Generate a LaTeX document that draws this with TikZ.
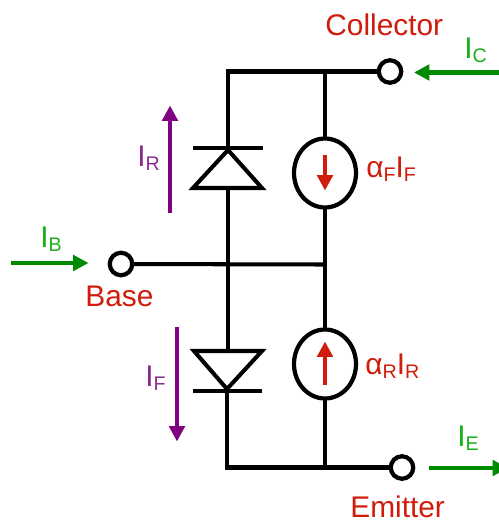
\documentclass[tikz,border=0pt]{standalone}
\usepackage{fontspec}
\setmainfont{Liberation Sans}
\usetikzlibrary{arrows.meta,shapes.geometric}
\definecolor{labelred}{HTML}{D01C0C}
\definecolor{arrowgreen}{HTML}{008A00}
\definecolor{labelgreen}{HTML}{18B018}
\definecolor{arrowpurple}{HTML}{800080}
\definecolor{labelpurple}{HTML}{8C2A8C}
\newcommand{\curlabel}[2]{#1\raisebox{-2.4pt}{\fontsize{11.2}{12}\selectfont #2}}
\tikzset{
	wire/.style={line width=2.3pt, color=black},
	terminal/.style={draw, circle, line width=2.4pt, minimum size=0.45cm, inner sep=0pt, outer sep=0pt},
	source/.style={draw, ellipse, line width=2.4pt, minimum width=1.24cm, minimum height=1.38cm, inner sep=0pt, outer sep=0pt},
	flowarrow/.style={line width=2.3pt, -{Triangle[length=8.8pt, width=8.8pt]}},
	txt/.style={anchor=base west, inner sep=0pt, font=\fontsize{17}{20}\selectfont}
}

\begin{document}
\begin{tikzpicture}[x=0.02cm, y=-0.02cm]
		%%%%% START %%%%%
		\useasboundingbox (0, 0) rectangle (499, 521);
		
		\node[terminal] (collector) at (390, 71.5) {};
		\node[terminal] (base) at (121, 264) {};
		\node[terminal] (emitter) at (402, 467.5) {};
		\node[source] (srcF) at (325, 173) {};
		\node[source] (srcR) at (325, 364) {};
		
		\coordinate (topleft) at (228, 71.5);
		\coordinate (topmid) at (325, 71.5);
		\coordinate (baseright) at (325, 264.5);
		\coordinate (botleft) at (227, 467.5);
		\coordinate (botmid) at (325, 467.5);
		
		% upper diode
		\coordinate (apexR) at (228, 150);
		\coordinate (baseRl) at (193, 188);
		\coordinate (baseRr) at (262, 188);
		\coordinate (midR) at (228, 188);
		\coordinate (barRl) at (193, 148);
		\coordinate (barRr) at (263, 148);
		\draw[wire, line join=miter] (apexR) -- (baseRr) -- (baseRl) -- cycle;
		\draw[wire] (barRl) -- (barRr);
		
		% lower diode
		\coordinate (apexF) at (227, 389);
		\coordinate (baseFl) at (194, 351);
		\coordinate (baseFr) at (262, 351);
		\coordinate (midF) at (228, 351);
		\coordinate (barFl) at (193, 391);
		\coordinate (barFr) at (262, 391);
		\draw[wire, line join=miter] (apexF) -- (baseFr) -- (baseFl) -- cycle;
		\draw[wire] (barFl) -- (barFr);
		
		% wires
		\draw[wire] (collector) -- (topleft) -- (apexR);
		\draw[wire] (topmid) -- (srcF);
		\draw[wire] (midR) -- (midF);
		\draw[wire] (srcF) -- (srcR);
		\draw[wire] (base) -- (baseright);
		\draw[wire] (apexF) -- (botleft) -- (emitter);
		\draw[wire] (srcR) -- (botmid);
		
		% current arrows
		\coordinate (icfrom) at (499, 72.5);
		\coordinate (icto) at (414, 72.5);
		\coordinate (ibfrom) at (11, 263);
		\coordinate (ibto) at (88.5, 263);
		\coordinate (iefrom) at (429, 468);
		\coordinate (ieto) at (508, 468);
		\coordinate (irfrom) at (170, 213);
		\coordinate (irto) at (170, 105.5);
		\coordinate (iffrom) at (177, 327);
		\coordinate (ifto) at (177, 441.5);
		\coordinate (srcFfrom) at (325, 155);
		\coordinate (srcFto) at (325, 190.5);
		\coordinate (srcRfrom) at (325, 385);
		\coordinate (srcRto) at (325, 341.5);
		\draw[flowarrow, color=arrowgreen] (icfrom) -- (icto);
		\draw[flowarrow, color=arrowgreen] (ibfrom) -- (ibto);
		\draw[flowarrow, color=arrowgreen] (iefrom) -- (ieto);
		\draw[flowarrow, color=arrowpurple] (irfrom) -- (irto);
		\draw[flowarrow, color=arrowpurple] (iffrom) -- (ifto);
		\draw[flowarrow, color=labelred] (srcFfrom) -- (srcFto);
		\draw[flowarrow, color=labelred] (srcRfrom) -- (srcRto);
		
		% labels
		\node[txt, color=labelred] (collectorlabel) at (325, 35) {Collector};
		\node[txt, color=labelred] (baselabel) at (85, 306) {Base};
		\node[txt, color=labelred] (emitterlabel) at (350, 517) {Emitter};
		\node[txt, color=labelgreen] (iclabel) at (464, 58) {\curlabel{I}{C}};
		\node[txt, color=labelgreen] (iblabel) at (40, 247) {\curlabel{I}{B}};
		\node[txt, color=labelgreen] (ielabel) at (457, 446) {\curlabel{I}{E}};
		\node[txt, color=labelpurple] (irlabel) at (137, 166) {\curlabel{I}{R}};
		\node[txt, color=labelpurple] (iflabel) at (145, 386) {\curlabel{I}{F}};
		\node[txt, color=labelred] (afif) at (366, 177) {\curlabel{α}{F}\curlabel{I}{F}};
		\node[txt, color=labelred] (arir) at (365, 374) {\curlabel{α}{R}\curlabel{I}{R}};
		
		%%%%% END %%%%%
	\end{tikzpicture}
\end{document}
